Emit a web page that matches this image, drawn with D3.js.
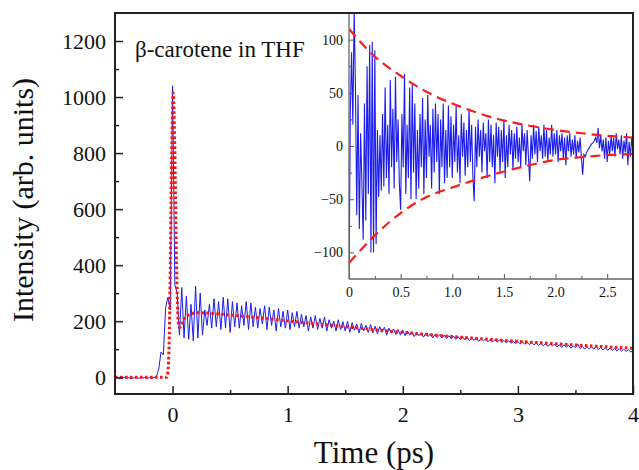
<!DOCTYPE html>
<html>
<head>
<meta charset="utf-8">
<script src="https://cdn.jsdelivr.net/npm/d3@7"></script>
<style>
  html, body { margin: 0; padding: 0; background: #fff; }
  svg { display: block; }
  svg text { font-family: "Liberation Serif", "DejaVu Serif", serif !important; fill: #111; }
</style>
</head>
<body>
<svg id="chart" width="639" height="470"></svg>
<script>
// ---------------- DATA ----------------
// Main trace: measured intensity, sampled every 0.02 ps starting at -0.5 ps
const mainStart = -0.5;
const mainStep = 0.02;
const mainSignal = [
  -5,-2,-6,-3,-1,-4,-2,-5,-3,0,-4,-2,-3,-1,-4,-2,-3,-1,
  2,30,90,80,250,285,240,1040,
  330,300,150,320,140,290,135,260,130,325,
  140,300,150,240,185,260,175,280,180,270,
  170,285,175,280,160,270,180,265,175,255,
  185,270,170,265,180,250,175,245,190,255,
  170,250,185,240,165,245,180,235,175,240,
  170,230,180,235,175,225,180,220,165,215,
  175,220,170,210,175,215,165,205,175,200,
  165,205,170,198,165,200,160,195,168,190,
  158,192,165,185,160,188,158,182,155,180,
  160,178,150,175,158,172,152,170,150,168,
  148,165,150,162,145,160,148,158,143,157,
  145,155,140,153,142,152,140,150,138,148,
  137,147,135,145,134,144,133,142,130,141,
  131,140,128,138,130,136,126,135,125,134,
  126,133,124,131,122,130,121,128,120,127,
  119,126,118,125,116,124,115,122,114,121,
  112,120,110,118,112,117,108,116,106,115,
  108,114,104,112,106,118,102,110,100,109,
  101,108,100,112,98,106,97,105,96,104,
  95,103,94,102,93,100,92,98,90,95
];
// Fitted model (red dotted): [time ps, intensity]
const fitTime = [-0.5,-0.05,-0.04,-0.03,-0.02,-0.01,0,0.005,0.01,0.02,0.03,0.04,0.05,0.06,0.08,0.10,0.15,0.2,0.3,0.5,0.75,1.0,1.5,2.0,2.5,3.0,3.5,4.0];
const fitValue = [0,0,20,120,380,720,960,1015,985,800,520,300,195,178,190,208,224,230,229,222,212,201,180,160,143,128,115,103];

// Inset: residual oscillation, sampled every 0.0125 ps from 0 ps
const resStart = 0;
const resStep = 0.0125;
const residual = [
  -130,30,88,20,128,55,-65,48,-78,12,
  -35,-88,40,-70,75,-45,95,-100,98,-100,
  90,-92,15,-48,10,-42,30,-38,55,-30,
  20,-45,62,-20,35,-40,65,-15,25,-35,
  -60,30,-20,68,-45,20,-30,55,-50,58,
  -25,40,-50,15,-40,30,-20,45,-45,25,
  -30,48,-10,20,-40,35,-25,40,-15,30,
  -45,25,-20,40,-35,15,-30,38,-20,28,
  -30,20,-15,38,-25,10,-35,30,-10,22,
  -28,15,-20,35,-15,20,-30,-52,18,-20,
  25,-10,15,-25,22,-5,12,-30,25,-15,
  20,-20,10,-35,22,-10,18,-25,15,-15,
  25,-30,10,-20,20,-8,15,-22,12,-12,
  18,-15,8,-20,20,-5,12,-18,15,-10,
  -33,10,-12,20,-8,14,-15,18,-5,10,
  -12,20,-10,15,-15,8,-8,20,-10,12,
  -8,15,-15,10,-5,12,-12,8,-18,10,
  -5,12,-10,6,-8,10,-12,5,-6,8,
  -10,-27,-8,-10,-6,-4,-2,0,2,3,
  5,8,3,17,-2,10,-5,6,-12,8,
  -15,5,-8,10,-5,8,-10,12,-3,6,
  -8,10,-12,5,-6,12,-18,4,-10,8,-5
];
// Decay envelopes (red dashed)
const envTime  = [0,0.25,0.5,0.75,1.0,1.25,1.5,1.75,2.0,2.25,2.5,2.75];
const envUpper = [110,84,66,51,40,31,24,19,15,12,9.5,8];
const envLower = [-110,-84,-63,-48,-39,-31,-24,-18,-13,-10.5,-8.5,-7.5];

// Tick labels
const mainXTicks = [0,1,2,3,4];
const mainXMinor = [0.5,1.5,2.5,3.5];
const mainYTicks = [0,200,400,600,800,1000,1200];
const mainYMinor = [100,300,500,700,900,1100];
const insetXTicks = [0,0.5,1.0,1.5,2.0,2.5];
const insetXMinor = [0.25,0.75,1.25,1.75,2.25];
const insetYTicks = [-100,-50,0,50,100];
const insetYMinor = [-75,-25,25,75];

const annotation = "β-carotene in THF";
const xTitle = "Time (ps)";
const yTitle = "Intensity (arb. units)";

// ---------------- CHART ----------------
const SERIF = '"Liberation Serif", "DejaVu Serif", serif';
const svg = d3.select("#chart");
const P = {left:115, top:13, right:633, bottom:394};
const I = {left:349, top:13, right:633, bottom:279};

const x = d3.scaleLinear().domain([-0.5,4]).range([P.left,P.right]);
const y = d3.scaleLinear().domain([-60,1300]).range([P.bottom,P.top]);
const xi = d3.scaleLinear().domain([0,2.75]).range([I.left,I.right]);
const yi = d3.scaleLinear().domain([-125,125]).range([I.bottom,I.top]);

const defs = svg.append("defs");
defs.append("clipPath").attr("id","clipMain").append("rect")
  .attr("x",P.left).attr("y",P.top).attr("width",P.right-P.left).attr("height",P.bottom-P.top);
defs.append("clipPath").attr("id","clipInset").append("rect")
  .attr("x",I.left).attr("y",I.top).attr("width",I.right-I.left).attr("height",I.bottom-I.top);

const mainPts = mainSignal.map((v,i)=>[mainStart+i*mainStep, v]);
const fitPts = fitTime.map((t,i)=>[t, fitValue[i]]);
const resPts = residual.map((v,i)=>[resStart+i*resStep, v]);
const upPts = envTime.map((t,i)=>[t, envUpper[i]]);
const loPts = envTime.map((t,i)=>[t, envLower[i]]);

const gMain = svg.append("g").attr("clip-path","url(#clipMain)");
gMain.append("path").datum(mainPts)
  .attr("d", d3.line().x(d=>x(d[0])).y(d=>y(d[1])))
  .attr("fill","none").attr("stroke","#1c1cf0").attr("stroke-width",1);
gMain.append("path").datum(fitPts)
  .attr("d", d3.line().x(d=>x(d[0])).y(d=>y(d[1])).curve(d3.curveMonotoneX))
  .attr("fill","none").attr("stroke","#ff1414").attr("stroke-width",3)
  .attr("stroke-dasharray","2.6,2.4");

// main axes (ticks inside)
function styleAxis(g){ g.attr("font-family",SERIF); g.select(".domain").remove(); g.selectAll("line").attr("stroke","#222").attr("stroke-width",1.5); }
function serifText(size){ return g=>g.selectAll("text").attr("font-size",size).style("font-family",SERIF).attr("fill","#111"); }
svg.append("g").attr("transform",`translate(0,${P.bottom})`)
  .call(d3.axisBottom(x).tickValues(mainXTicks).tickSize(-8).tickPadding(12).tickFormat(d3.format("d")))
  .call(styleAxis).call(serifText(22));
svg.append("g").attr("transform",`translate(0,${P.bottom})`)
  .call(d3.axisBottom(x).tickValues(mainXMinor).tickSize(-4).tickFormat(""))
  .call(styleAxis);
svg.append("g").attr("transform",`translate(${P.left},0)`)
  .call(d3.axisLeft(y).tickValues(mainYTicks).tickSize(-8).tickPadding(9).tickFormat(d3.format("d")))
  .call(styleAxis).call(serifText(22));
svg.append("g").attr("transform",`translate(${P.left},0)`)
  .call(d3.axisLeft(y).tickValues(mainYMinor).tickSize(-4).tickFormat(""))
  .call(styleAxis);

// inset
svg.append("rect").attr("x",I.left).attr("y",I.top).attr("width",I.right-I.left).attr("height",I.bottom-I.top)
  .attr("fill","#fff");
const gIn = svg.append("g").attr("clip-path","url(#clipInset)");
gIn.append("path").datum(resPts)
  .attr("d", d3.line().x(d=>xi(d[0])).y(d=>yi(d[1])))
  .attr("fill","none").attr("stroke","#1c1cf0").attr("stroke-width",1.1);
[upPts, loPts].forEach(pts=>{
  gIn.append("path").datum(pts)
    .attr("d", d3.line().x(d=>xi(d[0])).y(d=>yi(d[1])).curve(d3.curveMonotoneX))
    .attr("fill","none").attr("stroke","#ff1a1a").attr("stroke-width",2.2)
    .attr("stroke-dasharray","10,6");
});
function styleInset(g){ g.attr("font-family",SERIF); g.select(".domain").remove(); g.selectAll("line").attr("stroke","#555").attr("stroke-width",1); }
svg.append("g").attr("transform",`translate(0,${I.bottom})`)
  .call(d3.axisBottom(xi).tickValues(insetXTicks).tickSize(-5).tickPadding(8).tickFormat(d=>d===0?"0":d3.format(".1f")(d)))
  .call(styleInset).call(serifText(14));
svg.append("g").attr("transform",`translate(0,${I.bottom})`)
  .call(d3.axisBottom(xi).tickValues(insetXMinor).tickSize(-3).tickFormat(""))
  .call(styleInset);
svg.append("g").attr("transform",`translate(${I.left},0)`)
  .call(d3.axisLeft(yi).tickValues(insetYTicks).tickSize(-5).tickPadding(6).tickFormat(d3.format("d")))
  .call(styleInset).call(serifText(14));
svg.append("g").attr("transform",`translate(${I.left},0)`)
  .call(d3.axisLeft(yi).tickValues(insetYMinor).tickSize(-3).tickFormat(""))
  .call(styleInset);
svg.append("line").attr("x1",I.left).attr("x2",I.left).attr("y1",I.top).attr("y2",I.bottom)
  .attr("stroke","#666").attr("stroke-width",1.3);
svg.append("line").attr("x1",I.left).attr("x2",I.right).attr("y1",I.bottom).attr("y2",I.bottom)
  .attr("stroke","#666").attr("stroke-width",1.3);

// main frame
svg.append("rect").attr("x",P.left).attr("y",P.top).attr("width",P.right-P.left).attr("height",P.bottom-P.top)
  .attr("fill","none").attr("stroke","#222").attr("stroke-width",2);

// texts
svg.append("text").attr("x",135).attr("y",57).attr("font-size",23).style("font-family",SERIF).text(annotation);
svg.append("text").attr("x",(P.left+P.right)/2).attr("y",463).attr("text-anchor","middle")
  .attr("font-size",31).style("font-family",SERIF).text(xTitle);
svg.append("text").attr("transform",`translate(33,${200}) rotate(-90)`).attr("text-anchor","middle")
  .attr("font-size",30).style("font-family",SERIF).text(yTitle);
</script>
</body>
</html>
